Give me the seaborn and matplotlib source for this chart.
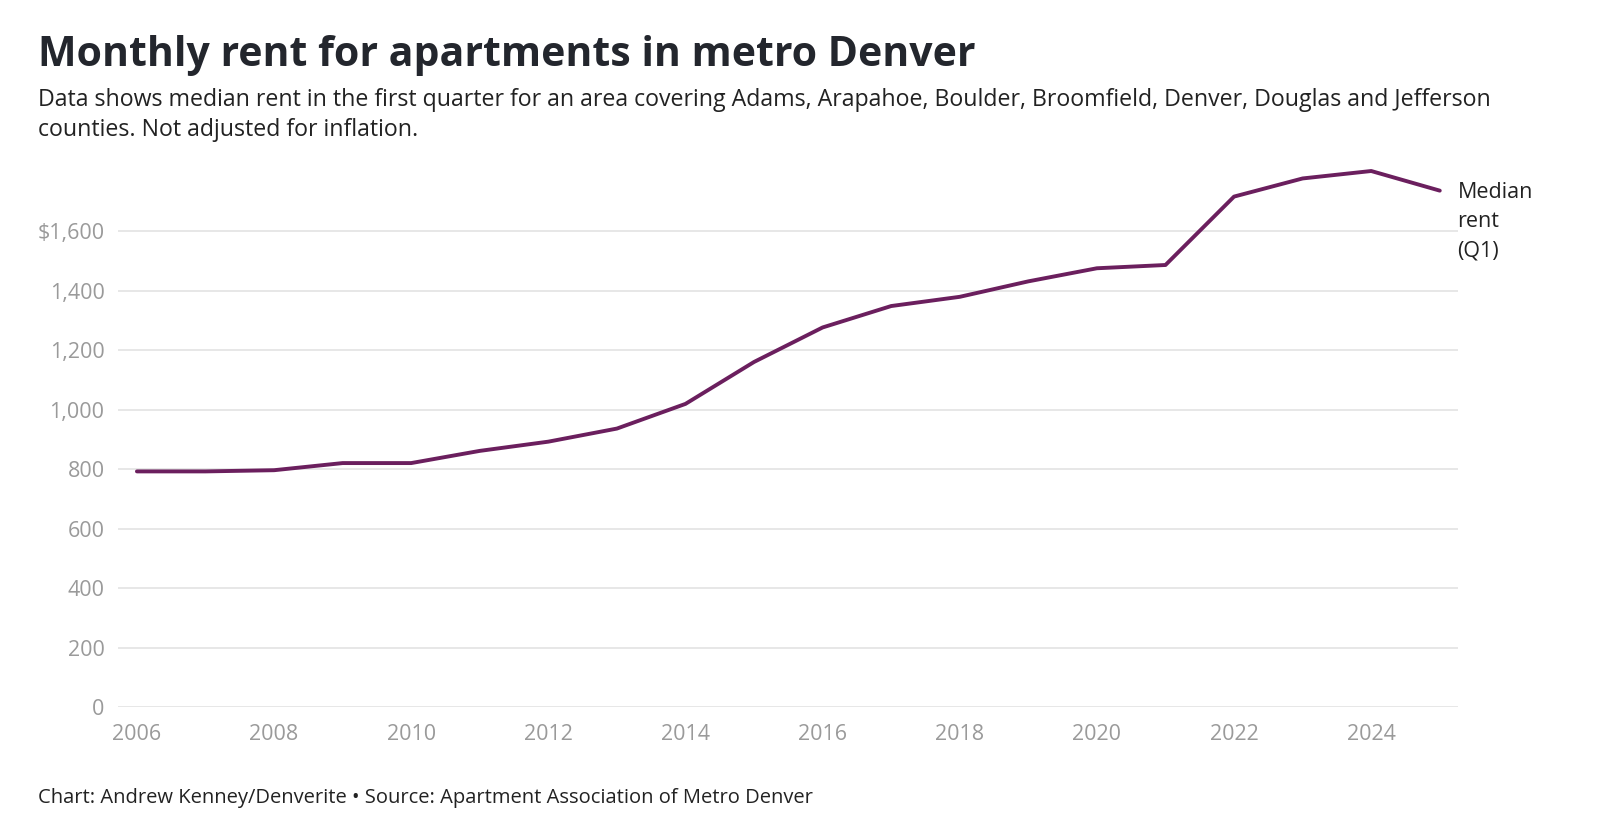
import matplotlib
matplotlib.use("Agg")
import matplotlib.pyplot as plt
import seaborn as sns
import pandas as pd
from matplotlib.ticker import FuncFormatter

years = [2006, 2007, 2008, 2009, 2010, 2011, 2012, 2013, 2014, 2015,
         2016, 2017, 2018, 2019, 2020, 2021, 2022, 2023, 2024, 2025]
rent = [793, 793, 797, 821, 821, 862, 893, 937, 1020, 1161,
        1277, 1349, 1380, 1432, 1476, 1487, 1717, 1778, 1803, 1737]
y_ticks = [0, 200, 400, 600, 800, 1000, 1200, 1400, 1600]
x_ticks = [2006, 2008, 2010, 2012, 2014, 2016, 2018, 2020, 2022, 2024]

df = pd.DataFrame({"year": years, "rent": rent})

sns.set_theme(style="white")
plt.rcParams['font.family'] = ['Open Sans', 'DejaVu Sans']

fig = plt.figure(figsize=(16, 8.36), dpi=100)
ax = fig.add_axes([0.074, 0.154, 0.837, 0.645])

sns.lineplot(data=df, x="year", y="rent", ax=ax, color="#6b1f5e", linewidth=2.8)

ax.set_xlim(2005.73, 2025.26)
ax.set_ylim(0, 1813)
ax.set_yticks(y_ticks)
ax.set_xticks(x_ticks)
ax.yaxis.set_major_formatter(FuncFormatter(lambda v, p: f"${v:,.0f}" if v == 1600 else f"{v:,.0f}"))
ax.grid(axis="y", color="#e3e3e3", linewidth=1.2)
ax.set_axisbelow(True)
for s in ax.spines.values():
    s.set_visible(False)
ax.tick_params(axis="both", length=0, labelsize=15.5, colors="#9a9a9a")
ax.tick_params(axis="y", pad=10)
ax.tick_params(axis="x", pad=12)
ax.set_xlabel("")
ax.set_ylabel("")

ax.annotate("Median\nrent\n(Q1)", xy=(1.0, rent[-1]), xycoords=("axes fraction", "data"),
            xytext=(0, 6), textcoords="offset points",
            fontsize=15.5, color="#222222", va="top", ha="left", linespacing=1.5)

fig.text(0.024, 0.934, "Monthly rent for apartments in metro Denver", fontsize=29.5,
         fontweight="bold", color="#23262d", va="center", ha="left")
fig.text(0.024, 0.880, "Data shows median rent in the first quarter for an area covering Adams, Arapahoe, Boulder, Broomfield, Denver, Douglas and Jefferson",
         fontsize=16.7, color="#222222", va="center", ha="left")
fig.text(0.024, 0.845, "counties. Not adjusted for inflation.",
         fontsize=16.7, color="#222222", va="center", ha="left")
fig.text(0.024, 0.046, "Chart: Andrew Kenney/Denverite \u2022 Source: Apartment Association of Metro Denver",
         fontsize=14.5, color="#222222", va="center", ha="left")

fig.savefig("out.png", dpi=100, facecolor="white")
